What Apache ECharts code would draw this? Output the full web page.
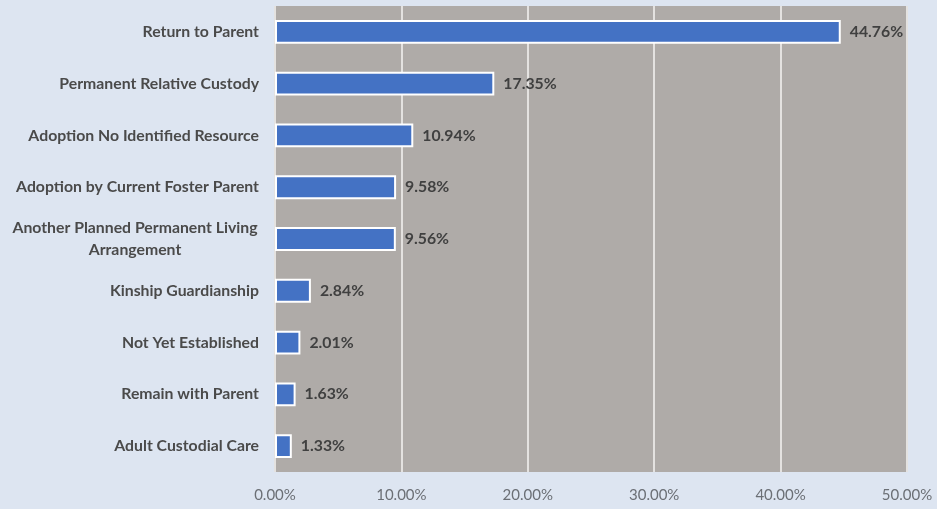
<!DOCTYPE html>
<html>
<head>
<meta charset="utf-8">
<script src="https://cdn.jsdelivr.net/npm/echarts@6/dist/echarts.min.js"></script>
<style>html,body{margin:0;padding:0;background:#dde5f1;}#c{width:937px;height:509px;}</style>
</head>
<body>
<div id="c"></div>
<script>
const categories = [
  "Return to Parent",
  "Permanent Relative Custody",
  "Adoption No Identified Resource",
  "Adoption by Current Foster Parent",
  "Another Planned Permanent Living Arrangement",
  "Kinship Guardianship",
  "Not Yet Established",
  "Remain with Parent",
  "Adult Custodial Care"
];
const values = [44.76, 17.35, 10.94, 9.58, 9.56, 2.84, 2.01, 1.63, 1.33];
const xTicks = { min: 0, max: 50, interval: 10 };

const labelFont = { color: '#4a4a4a', fontFamily: 'Lato', fontWeight: 'bold', fontSize: 15.8, lineHeight: 22 };

const chart = echarts.init(document.getElementById('c'), null, { renderer: 'canvas' });
chart.setOption({
  backgroundColor: '#dde5f1',
  animation: false,
  grid: { left: 275, right: 30, top: 6, bottom: 37, show: true, backgroundColor: '#afaba8', borderWidth: 0,
    containLabel: false, outerBoundsMode: 'none' },
  xAxis: {
    type: 'value', min: xTicks.min, max: xTicks.max, interval: xTicks.interval,
    axisLine: { show: false }, axisTick: { show: false },
    splitLine: { show: true, lineStyle: { color: '#e4e2e0', width: 2 } },
    axisLabel: { color: '#6b6f75', fontFamily: 'Lato', fontSize: 15, margin: 16,
      formatter: v => v.toFixed(2) + '%' }
  },
  yAxis: {
    type: 'category', data: categories, inverse: true,
    axisLine: { show: false }, axisTick: { show: false },
    axisLabel: Object.assign({}, labelFont, { margin: 16, align: 'right',
      formatter: v => {
        if (v.length > 34) {
          const w = v.split(' ');
          return '{c|' + w.slice(0, -1).join(' ') + '}\n{c|' + w[w.length - 1] + '}';
        }
        return v;
      },
      rich: { c: Object.assign({}, labelFont, { width: 248, align: 'center' }) }
    })
  },
  series: [{
    type: 'bar', data: values, barWidth: '46%',
    itemStyle: { color: '#4472c4', borderColor: '#ffffff', borderWidth: 2 },
    label: { show: true, position: 'right', distance: 9, color: '#404040', fontFamily: 'Lato',
      fontWeight: 'bold', fontSize: 15.8, formatter: p => p.value.toFixed(2) + '%' }
  }]
});
</script>
</body>
</html>
